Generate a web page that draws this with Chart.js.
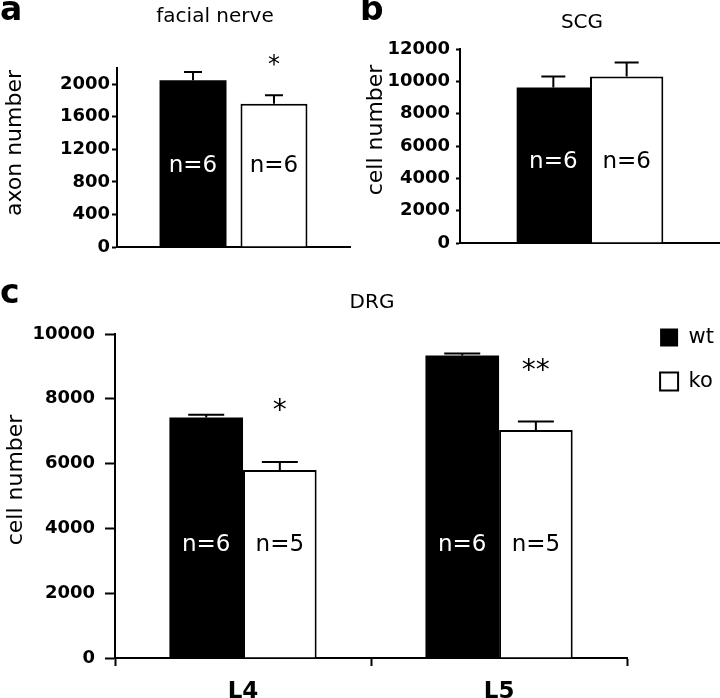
<!DOCTYPE html>
<html>
<head>
<meta charset="utf-8">
<title>facial nerve / SCG / DRG</title>
<script src="https://cdn.jsdelivr.net/npm/chart.js@4.4.1/dist/chart.umd.min.js"></script>
<style>
  html, body { margin: 0; padding: 0; background: #fff; }
  #wrap { position: relative; width: 720px; height: 698px; }
  .panel { position: absolute; }
</style>
</head>
<body>
<div id="wrap">
  <div class="panel" style="left:0;top:0;width:360px;height:275px"><canvas id="facialChart"></canvas></div>
  <div class="panel" style="left:360px;top:0;width:360px;height:275px"><canvas id="scgChart"></canvas></div>
  <div class="panel" style="left:0;top:280px;width:720px;height:418px"><canvas id="drgChart"></canvas></div>
</div>
<script>
// panel a: facial nerve
const facialLabels = ['facial nerve'];
const facialWt = [2050];
const facialKo = [1760];
const facialWtSem = [100];
const facialKoSem = [105];
const facialWtN = ['n=6'];
const facialKoN = ['n=6'];
const facialKoStars = ['*'];
const facialTicks = [0, 400, 800, 1200, 1600, 2000];

// panel b: SCG
const scgLabels = ['SCG'];
const scgWt = [9620];
const scgKo = [10300];
const scgWtSem = [680];
const scgKoSem = [870];
const scgWtN = ['n=6'];
const scgKoN = ['n=6'];
const scgKoStars = [''];
const scgTicks = [0, 2000, 4000, 6000, 8000, 10000, 12000];

// panel c: DRG
const drgLabels = ['L4', 'L5'];
const drgWt = [7420, 9340];
const drgKo = [5800, 7040];
const drgWtSem = [90, 60];
const drgKoSem = [250, 260];
const drgWtN = ['n=6', 'n=6'];
const drgKoN = ['n=5', 'n=5'];
const drgKoStars = ['*', '**'];
const drgTicks = [0, 2000, 4000, 6000, 8000, 10000];

Chart.defaults.font.family = '"DejaVu Sans", sans-serif';
Chart.defaults.color = '#000';

// error bars, n= labels, asterisks, panel letter, title and y title
const panelDecor = {
    id: 'panelDecor',
    afterLayout(chart, args, opts) {
        if (opts.legendShift && chart.legend) {
            chart.legend.left += opts.legendShift;
            chart.legend.right += opts.legendShift;
        }
    },
    afterDatasetsDraw(chart, args, opts) {
        const ctx = chart.ctx;
        const yScale = chart.scales.y;
        ctx.save();
        chart.data.datasets.forEach((ds, i) => {
            const meta = chart.getDatasetMeta(i);
            meta.data.forEach((bar, j) => {
                const capY = yScale.getPixelForValue(ds.data[j] + ds.sem[j]);
                ctx.strokeStyle = '#000';
                ctx.lineWidth = 2;
                ctx.beginPath();
                ctx.moveTo(bar.x, bar.y);
                ctx.lineTo(bar.x, capY);
                ctx.moveTo(bar.x - opts.capHalf, capY);
                ctx.lineTo(bar.x + opts.capHalf, capY);
                ctx.stroke();

                ctx.font = '23px "DejaVu Sans"';
                ctx.fillStyle = ds.textColor;
                ctx.textAlign = 'center';
                ctx.textBaseline = 'middle';
                ctx.fillText(ds.nLabels[j], bar.x, yScale.getPixelForValue(opts.nAt));

                if (ds.stars && ds.stars[j]) {
                    ctx.font = opts.starSize + 'px "DejaVu Sans"';
                    ctx.fillStyle = '#000';
                    ctx.textBaseline = 'alphabetic';
                    ctx.fillText(ds.stars[j], bar.x, capY - opts.starGap + opts.starSize * 0.55);
                }
            });
        });

        ctx.fillStyle = '#000';
        ctx.textBaseline = 'alphabetic';
        ctx.textAlign = 'left';
        ctx.font = 'bold 33px "DejaVu Sans"';
        ctx.fillText(opts.letter, opts.letterX, opts.letterY);
        ctx.textAlign = 'center';
        ctx.font = '20px "DejaVu Sans"';
        ctx.fillText(opts.title, opts.titleX, opts.titleY);

        ctx.translate(opts.yTitleX, opts.yTitleY);
        ctx.rotate(-Math.PI / 2);
        ctx.textBaseline = 'middle';
        ctx.font = '22px "DejaVu Sans"';
        ctx.fillText(opts.yTitle, 0, 0);
        ctx.restore();
    }
};

function yAxis(max, tickValues, width, tickLength, padding, topPad) {
    return {
        min: 0,
        max: max,
        afterBuildTicks: (scale) => {
            scale.ticks = tickValues.map(v => ({ value: v }));
        },
        afterFit: (scale) => {
            scale.width = width;
            if (topPad) scale.paddingTop = topPad;
        },
        ticks: {
            color: '#000',
            padding: padding,
            font: { weight: 'bold', size: 18 },
            callback: (v) => String(v)
        },
        grid: {
            drawOnChartArea: false,
            tickLength: tickLength,
            tickColor: '#000',
            tickWidth: 2
        },
        border: { color: '#000', width: 2 }
    };
}

function bareXAxis(height) {
    return {
        ticks: { display: false },
        grid: { display: false },
        border: { color: '#000', width: 2 },
        afterFit: (scale) => { scale.height = height; }
    };
}

// a
new Chart(document.getElementById('facialChart'), {
    type: 'bar',
    data: {
        labels: facialLabels,
        datasets: [
            { label: 'wt', data: facialWt, sem: facialWtSem, nLabels: facialWtN, textColor: '#fff',
              backgroundColor: '#000', borderColor: '#000', borderWidth: 0 },
            { label: 'ko', data: facialKo, sem: facialKoSem, nLabels: facialKoN, stars: facialKoStars, textColor: '#000',
              backgroundColor: '#fff', borderColor: '#000', borderWidth: 2 }
        ]
    },
    options: {
        responsive: true,
        maintainAspectRatio: false,
        animation: false,
        categoryPercentage: 0.695,
        barPercentage: 0.827,
        layout: { padding: { top: 68, right: 10, left: 0, bottom: 0 } },
        scales: {
            x: bareXAxis(28),
            y: yAxis(2200, facialTicks, 117, 5, 2)
        },
        plugins: {
            legend: { display: false },
            tooltip: { enabled: false },
            panelDecor: {
                letter: 'a', letterX: 0, letterY: 20,
                title: 'facial nerve', titleX: 215, titleY: 22,
                yTitle: 'axon number', yTitleX: 15, yTitleY: 143,
                capHalf: 9, nAt: 1000, starSize: 24, starGap: 36
            }
        }
    },
    plugins: [panelDecor]
});

// b
new Chart(document.getElementById('scgChart'), {
    type: 'bar',
    data: {
        labels: scgLabels,
        datasets: [
            { label: 'wt', data: scgWt, sem: scgWtSem, nLabels: scgWtN, textColor: '#fff',
              backgroundColor: '#000', borderColor: '#000', borderWidth: 0 },
            { label: 'ko', data: scgKo, sem: scgKoSem, nLabels: scgKoN, stars: scgKoStars, textColor: '#000',
              backgroundColor: '#fff', borderColor: '#000', borderWidth: 2 }
        ]
    },
    options: {
        responsive: true,
        maintainAspectRatio: false,
        animation: false,
        categoryPercentage: 0.564,
        barPercentage: 1,
        layout: { padding: { top: 49, right: 0, left: 0, bottom: 0 } },
        scales: {
            x: bareXAxis(32),
            y: yAxis(12000, scgTicks, 100, 4, 6)
        },
        plugins: {
            legend: { display: false },
            tooltip: { enabled: false },
            panelDecor: {
                letter: 'b', letterX: 0, letterY: 20,
                title: 'SCG', titleX: 222, titleY: 28,
                yTitle: 'cell number', yTitleX: 16, yTitleY: 130,
                capHalf: 12, nAt: 5000, starSize: 24, starGap: 36
            }
        }
    },
    plugins: [panelDecor]
});

// c
new Chart(document.getElementById('drgChart'), {
    type: 'bar',
    data: {
        labels: drgLabels,
        datasets: [
            { label: 'wt', data: drgWt, sem: drgWtSem, nLabels: drgWtN, textColor: '#fff',
              backgroundColor: '#000', borderColor: '#000', borderWidth: 0 },
            { label: 'ko', data: drgKo, sem: drgKoSem, nLabels: drgKoN, stars: drgKoStars, textColor: '#000',
              backgroundColor: '#fff', borderColor: '#000', borderWidth: 2 }
        ]
    },
    options: {
        responsive: true,
        maintainAspectRatio: false,
        animation: false,
        categoryPercentage: 0.575,
        barPercentage: 1,
        layout: { padding: { top: 24, right: 6, left: 0, bottom: 0 } },
        scales: {
            x: {
                ticks: { color: '#000', padding: 12, font: { weight: 'bold', size: 23 } },
                grid: { drawOnChartArea: false, offset: true, tickLength: 8, tickColor: '#000', tickWidth: 2 },
                border: { color: '#000', width: 2 },
                afterFit: (scale) => { scale.height = 40; }
            },
            y: yAxis(10000, drgTicks, 115, 10, 10, 54)
        },
        plugins: {
            legend: {
                position: 'right',
                align: 'start',
                labels: { boxWidth: 18, boxHeight: 18, padding: 23, color: '#000', font: { size: 21 } }
            },
            tooltip: { enabled: false },
            panelDecor: {
                legendShift: 10,
                letter: 'c', letterX: 0, letterY: 23,
                title: 'DRG', titleX: 372, titleY: 28,
                yTitle: 'cell number', yTitleX: 16, yTitleY: 200,
                capHalf: 18, nAt: 3500, starSize: 28, starGap: 58
            }
        }
    },
    plugins: [panelDecor]
});
</script>
</body>
</html>
